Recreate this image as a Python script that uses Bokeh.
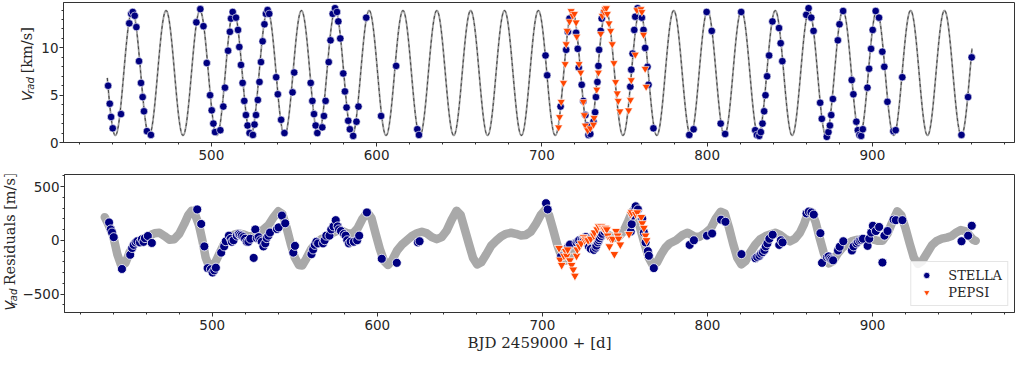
import numpy as np
from bokeh.plotting import figure
from bokeh.layouts import column, row
from bokeh.models import (Range1d, SingleIntervalTicker, CustomJSTickFormatter,
                          Legend, LegendItem)
from bokeh.core.properties import value
from bokeh.embed import file_html
from bokeh.resources import INLINE

# ---------------- data ----------------
stella_t = [
    437.5, 438.5, 439.3, 440.3, 445.3, 450.3, 451.5, 452.4, 453.6, 454.6,
    456.2, 457.4, 458.4, 459.2, 461.0, 463.4, 490.9, 493.3, 495.2, 497.2,
    499.2, 500.2, 501.2, 502.2, 505.4, 507.2, 508.2, 510.1, 511.2, 511.9,
    512.9, 514.9, 516.1, 516.9, 517.9, 518.9, 519.9, 520.9, 521.9, 523.1,
    525.1, 526.1, 527.0, 528.1, 529.1, 530.0, 531.0, 532.1, 533.0, 534.0,
    535.0, 539.2, 540.2, 542.2, 544.2, 549.1, 550.1, 560.1, 561.1, 562.1,
    563.1, 564.1, 567.1, 568.1, 569.1, 571.0, 572.1, 573.4, 574.8, 576.0,
    576.8, 578.0, 579.8, 580.8, 581.8, 582.8, 583.8, 585.8, 587.8, 589.0,
    593.7, 602.7, 611.8, 624.6, 625.6, 702.2, 703.2, 711.3, 714.7, 715.7,
    716.7, 720.7, 721.7, 722.3, 724.1, 725.1, 726.3, 727.3, 728.2, 729.3,
    731.2, 732.2, 732.7, 733.6, 734.2, 734.6, 735.6, 736.2, 737.6, 753.5,
    754.1, 754.9, 755.9, 756.5, 757.9, 760.5, 761.5, 762.5, 763.9, 764.5,
    767.5, 789.2, 791.8, 799.7, 802.8, 808.2, 810.9, 820.6, 829.1, 830.1,
    831.5, 832.5, 833.5, 834.5, 835.3, 836.3, 837.5, 839.5, 843.5, 844.5,
    845.5, 860.0, 861.4, 863.0, 864.4, 868.4, 869.4, 872.4, 873.4, 874.3,
    875.1, 876.1, 879.1, 880.1, 882.3, 887.5, 888.5, 890.3, 891.2, 892.2,
    893.2, 894.2, 897.0, 898.0, 899.2, 900.2, 902.0, 904.0, 906.0, 907.2,
    909.1, 912.7, 914.1, 918.1, 953.9, 957.9, 960.1]
stella_rv = [
    6.0, 4.1, 2.7, 1.5, 3.0, 12.6, 13.6, 13.8, 13.4, 12.2,
    8.6, 6.3, 4.8, 3.3, 1.2, 0.8, 12.7, 14.1, 12.3, 8.4,
    5.0, 3.4, 2.0, 1.1, 1.3, 3.8, 5.8, 9.7, 11.7, 13.1,
    13.8, 13.2, 11.9, 10.1, 8.2, 6.3, 4.4, 2.9, 1.8, 1.0,
    0.8, 1.9, 2.9, 4.5, 6.4, 8.5, 10.7, 12.5, 13.6, 14.0,
    13.6, 6.9, 5.1, 2.4, 1.0, 5.3, 7.4, 6.3, 4.4, 3.0,
    1.8, 1.0, 1.6, 2.8, 4.4, 8.5, 10.8, 13.6, 14.2, 13.8,
    12.8, 11.0, 7.3, 5.4, 3.7, 2.3, 1.4, 0.7, 2.2, 3.8,
    13.2, 2.8, 8.1, 1.4, 0.8, 9.2, 7.1, 3.8, 9.8, 11.7,
    13.1, 11.6, 9.9, 7.9, 6.1, 4.4, 2.9, 1.8, 0.8, 0.9,
    2.2, 3.2, 4.8, 6.4, 8.1, 9.8, 11.8, 13.1, 13.8, 5.9,
    7.7, 9.4, 11.9, 13.3, 14.2, 13.2, 11.9, 10.0, 8.0, 6.1,
    1.5, 0.8, 1.4, 13.8, 11.8, 2.0, 0.9, 13.8, 1.3, 0.8,
    0.7, 1.1, 2.0, 3.3, 5.0, 7.0, 9.2, 12.8, 12.1, 10.5,
    8.6, 13.5, 14.2, 13.2, 11.8, 4.2, 2.5, 0.6, 1.1, 1.8,
    2.9, 4.6, 10.8, 12.5, 13.9, 6.6, 5.1, 2.2, 1.3, 0.8,
    0.7, 1.4, 5.8, 7.8, 9.9, 11.9, 13.9, 13.2, 9.6, 8.0,
    4.3, 1.2, 1.3, 6.9, 0.8, 4.8, 9.0]
stella_res = [
    166, 101, 72, 29, -267, -135, -72, -43, -20, -9,
    -20, 10, -15, 20, 40, -25, 287, 152, -57, -259,
    -270, -300, -280, -255, -115, -57, -9, 43, 14, -14,
    0, 43, 58, 50, 43, 30, 14, -14, -14, 14,
    -164, 101, 20, 29, 0, -14, -57, -29, 20, 43,
    72, 105, 120, 230, 158, -115, -52, -129, -86, -43,
    -14, -29, -29, 0, 43, 43, 101, 129, 187, 129,
    101, 86, 58, 43, 0, -29, -14, -14, 0, 43,
    259, -172, -210, -20, -9, 345, 287, -150, -80, -60,
    -40, -20, -10, 0, 10, 20, 30, -30, -60, -80,
    -90, -70, -50, -20, 0, 20, 40, 60, 80, 80,
    150, 230, 290, 316, 287, 200, 72, -20, -101, -144,
    -259, -43, 0, 43, 63, 192, 172, -129, -167, -155,
    -144, -124, -110, -90, -57, -29, 14, 52, -43, 0,
    -20, 250, 267, 259, 239, 66, -210, -158, -150, -170,
    -180, -187, -95, -60, -9, -95, -57, -29, -14, 0,
    5, 14, -52, 14, 72, 135, 86, 124, -207, 43,
    86, 192, 187, 187, -9, 43, 135]

pepsi_t = [
    710.1, 710.7, 711.7, 713.1, 714.1, 714.7, 715.3, 716.7, 717.7, 718.7,
    719.7, 720.7, 721.1, 722.5, 723.5, 725.1, 725.7, 726.3, 727.7, 729.3,
    731.2, 731.6, 733.2, 734.2, 735.6, 736.6, 737.6, 738.2, 739.0, 739.6,
    740.6, 741.6, 742.6, 743.6, 744.6, 745.6, 746.2, 747.2, 752.5, 753.6,
    754.1, 756.5, 757.5, 759.9, 760.5, 761.5, 762.5, 763.1]
pepsi_rv = [
    1.6, 2.7, 4.3, 6.3, 8.3, 10.4, 11.8, 12.8, 13.9, 13.4,
    13.6, 12.7, 11.2, 8.3, 7.4, 4.3, 2.9, 1.8, 1.3, 1.5,
    1.9, 2.6, 5.6, 7.4, 11.5, 13.4, 13.8, 14.1, 14.2, 13.6,
    12.6, 11.8, 10.4, 8.4, 6.4, 5.2, 4.4, 3.3, 3.4, 4.5,
    6.6, 9.3, 14.0, 14.1, 13.8, 11.4, 7.8, 5.9]
pepsi_res = [
    -72, -181, -230, -144, -101, -144, -86, -187, -230, -273,
    -330, -144, -86, -57, -29, 29, 0, 14, 0, 14,
    43, 72, 101, 129, 129, 115, 101, 115, 101, 43,
    -57, 14, 14, -129, 86, 43, 14, -40, 58, 244,
    259, 244, 259, 216, 158, 115, 43, 0]

# orbital model parameters
orbit_period = 20.48      # days
orbit_K = 6.6             # km/s
orbit_gamma = 7.35        # km/s
orbit_tpeak = 452.1       # day of a maximum
model_t_start, model_t_end = 437.0, 960.3

# residual model curve
resid_model_t = [
    434.9, 437, 440, 442.5, 445, 447.5, 450, 453, 456, 459, 462, 465, 468, 471,
    474, 477, 480, 483, 485.5, 487.5, 489.5, 492, 494, 496, 498, 500, 502,
    504.5, 507, 510, 513, 516, 519, 522, 525, 528, 531, 534, 537, 540, 542.5,
    545, 547.5, 550, 552.5, 554.5, 557, 560, 563, 566.5, 570, 573, 576, 579,
    582, 585, 588, 591, 594, 596.5, 599, 601.5, 604, 606.5, 609, 612, 615,
    618, 621, 624, 627, 630, 633, 636, 639, 642, 645, 648, 650.5, 653, 655.5,
    658, 660.5, 663, 666, 669, 672, 675, 678, 681, 684, 687, 690, 693, 696,
    699, 701.5, 704, 706.5, 709, 711.5, 714, 716.5, 719, 722, 725, 728, 731,
    734, 737, 740, 743, 746, 749, 752, 754.5, 757, 759.5, 762, 764.5, 767,
    769.5, 772, 774.5, 777, 781, 785, 788, 792, 795, 799, 802, 805, 808,
    810.5, 813, 815.5, 818, 820.5, 823, 826, 829, 832, 836, 841, 844, 847,
    850, 853, 856, 858.5, 861, 863, 865.5, 868, 870.5, 873.5, 876, 879, 882,
    885, 888, 891, 894, 897, 900, 903, 906, 909, 912, 915, 917.5, 920, 922.5,
    925, 927.5, 930, 933, 936, 939, 942, 945, 948, 951, 953.5, 956, 958.5,
    961, 962.5]
resid_model_v = [
    215, 150, 40, -130, -240, -210, -110, -30, -10, 20, 45, 65, 70, 40,
    5, 10, 60, 150, 235, 275, 245, 140, 0, -160, -240, -245, -200,
    -120, -40, 20, 50, 65, 55, 35, 40, 70, 100, 140, 210, 270, 245,
    120, -30, -160, -230, -235, -170, -80, -25, 15, 35, 70, 90, 85,
    65, 60, 110, 200, 260, 205, 60, -80, -190, -230, -185, -95, -40,
    0, 40, 65, 80, 65, 30, 10, 30, 90, 190, 275, 235, 100, -35,
    -165, -225, -205, -130, -50, -5, 35, 60, 70, 60, 45, 50, 80, 150,
    235, 280, 235, 100, -40, -150, -190, -165, -105, -40, 0, 25, 40,
    60, 75, 50, 20, 30, 80, 180, 270, 235, 100, -40, -165, -235,
    -205, -130, -70, -30, 0, 50, 70, 35, 30, 70, 110, 200, 265,
    250, 120, -30, -160, -225, -195, -110, -40, 10, 45, 70, 50, 15,
    -10, 15, 70, 150, 260, 265, 170, 20, -120, -215, -195, -120, -65,
    -30, -5, 5, 10, 10, 10, -5, -5, 60, 170, 270, 230, 110, -30,
    -160, -220, -195, -120, -45, -5, 15, 25, 40, 75, 95, 85, 50,
    5, -5]

x_ticks_interval = 100
top_y_interval = 5
bot_y_interval = 500

# ---------------- layout ----------------
W = 1015
RIGHT = 1
X0, X1 = 410.5, 986.0
TOP_Y = (0.0, 14.8)
BOT_Y = (-672.0, 612.0)
H1, H2 = 166, 188
LAB1, BORDER1 = 38, 24      # label strip + axis border, top row
LAB2, BORDER2 = 19, 43      # label strip + axis border, bottom row

NAVY = "#000080"
ORANGE = "#FF4500"
INK = "#262626"
FRAME = "#333333"
LABEL_SIZE = 14.5
SUB_SIZE = 10
SUB_W = 16.6                # rendered length of the subscript "rad"
GAP = 4.6                   # word space between subscript and main text

minus_fmt = CustomJSTickFormatter(
    code="return (tick < 0 ? '\u2212' : '') + Math.abs(tick).toString();")


def style(p, yint):
    p.outline_line_color = FRAME
    p.outline_line_width = 1
    p.xgrid.visible = False
    p.ygrid.visible = False
    p.xaxis[0].ticker = SingleIntervalTicker(interval=x_ticks_interval, num_minor_ticks=5)
    p.yaxis[0].ticker = SingleIntervalTicker(interval=yint, num_minor_ticks=5)
    p.yaxis[0].formatter = minus_fmt
    for ax in (p.xaxis[0], p.yaxis[0]):
        ax.axis_line_color = FRAME
        ax.major_tick_line_color = FRAME
        ax.minor_tick_line_color = FRAME
        ax.major_tick_out = 4
        ax.major_tick_in = 0
        ax.minor_tick_out = 2
        ax.minor_tick_in = 0
        ax.major_label_text_font = "DejaVu Sans"
        ax.major_label_text_font_size = "13.5px"
        ax.major_label_text_color = INK
    p.xaxis[0].major_label_standoff = 3
    p.yaxis[0].major_label_standoff = 1


def label_strip(width, height, xc, start, main_text):
    """Vertical axis title 'V_rad main_text' drawn in a narrow strip.
    xc: centre line of the glyphs; start: strip y (from bottom) where the
    main text begins (it runs upward); V_rad sits just below it."""
    f = figure(width=width, height=height, x_range=Range1d(0, width),
               y_range=Range1d(0, height), x_axis_type=None, y_axis_type=None,
               output_backend="svg", toolbar_location=None, title=None,
               min_border_left=0, min_border_right=0,
               min_border_top=0, min_border_bottom=0)
    f.outline_line_color = None
    f.grid.visible = False
    common = dict(angle=np.pi / 2, text_baseline="middle", text_color=INK)
    f.text(x=[xc], y=[start], text=[main_text], text_align="left",
           text_font=value("DejaVu Serif"), text_font_style="normal",
           text_font_size=value(f"{LABEL_SIZE}px"), **common)
    f.text(x=[xc + 3.5], y=[start - GAP], text=["rad"], text_align="right",
           text_font=value("DejaVu Sans"), text_font_style="italic",
           text_font_size=value(f"{SUB_SIZE}px"), **common)
    f.text(x=[xc], y=[start - GAP - SUB_W], text=["V"], text_align="right",
           text_font=value("DejaVu Sans"), text_font_style="italic",
           text_font_size=value(f"{LABEL_SIZE}px"), **common)
    return f


# ---------------- top panel ----------------
p1 = figure(width=W - LAB1, height=H1, x_range=Range1d(X0, X1),
            y_range=Range1d(*TOP_Y), output_backend="svg", toolbar_location=None,
            min_border_left=BORDER1, min_border_right=RIGHT,
            min_border_top=2, min_border_bottom=24)
style(p1, top_y_interval)

mt = np.linspace(model_t_start, model_t_end, 5000)
mv = orbit_gamma + orbit_K * np.cos(2 * np.pi * (mt - orbit_tpeak) / orbit_period)
p1.line(mt, mv, line_color="#9c9c9c", line_width=1.8)
p1.line(mt, mv, line_color="#000000", line_width=0.6, line_dash="3 3")
p1.scatter(stella_t, stella_rv, marker="circle", size=7.5, fill_color=NAVY,
           line_color="white", line_width=0.6)
p1.scatter(pepsi_t, pepsi_rv, marker="inverted_triangle", size=8, fill_color=ORANGE,
           line_color="white", line_width=0.6)

lab1 = label_strip(LAB1, H1, 26, H1 - 84, "[km/s]")

# ---------------- bottom panel ----------------
p2 = figure(width=W - LAB2, height=H2, x_range=Range1d(X0, X1),
            y_range=Range1d(*BOT_Y), output_backend="svg", toolbar_location=None,
            min_border_left=BORDER2, min_border_right=RIGHT,
            min_border_top=8, min_border_bottom=42)
style(p2, bot_y_interval)
p2.xaxis[0].axis_label = "BJD 2459000 + [d]"
p2.xaxis[0].axis_label_text_font = "DejaVu Serif"
p2.xaxis[0].axis_label_text_font_style = "normal"
p2.xaxis[0].axis_label_text_font_size = "15px"
p2.xaxis[0].axis_label_text_color = INK
p2.xaxis[0].axis_label_standoff = 1

p2.line(resid_model_t, resid_model_v, line_color="#a9a9a9", line_width=8.5,
        line_cap="round", line_join="round")
rs = p2.scatter(stella_t, stella_res, marker="circle", size=9, fill_color=NAVY,
                line_color="white", line_width=0.8)
rp = p2.scatter(pepsi_t, pepsi_res, marker="inverted_triangle", size=9,
                fill_color=ORANGE, line_color="white", line_width=0.8)

lab2 = label_strip(LAB2, H2, 9.5, 37, "Residuals [m/s]")

legend = Legend(items=[LegendItem(label="STELLA", renderers=[rs]),
                       LegendItem(label="PEPSI", renderers=[rp])],
                location="bottom_right")
legend.label_text_font = "DejaVu Serif"
legend.label_text_font_size = "13px"
legend.label_text_color = INK
legend.margin = 6
legend.padding = 5
legend.spacing = 1
legend.glyph_width = 20
legend.glyph_height = 16
legend.label_height = 16
legend.label_standoff = 12
legend.border_line_color = "#cccccc"
legend.border_line_width = 1
legend.background_fill_color = "white"
legend.background_fill_alpha = 0.85
p2.add_layout(legend)

layout = column(row(lab1, p1), row(lab2, p2))
open("out.html", "w").write(file_html(layout, INLINE))
